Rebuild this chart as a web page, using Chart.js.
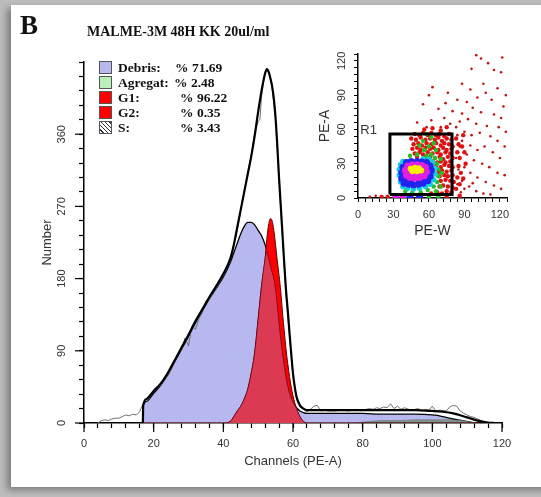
<!DOCTYPE html>
<html>
<head>
<meta charset="utf-8">
<title>MALME-3M 48H KK 20ul/ml</title>
<script src="https://cdn.jsdelivr.net/npm/chart.js@4.4.1/dist/chart.umd.min.js"></script>
<style>
  html, body { margin: 0; padding: 0; }
  body {
    width: 541px; height: 497px; position: relative; overflow: hidden;
    background: #bdbdbd;
    font-family: "Liberation Sans", Arial, sans-serif;
  }
  #card {
    position: absolute; left: 11px; top: 5px; width: 540px; height: 482px;
    background: #fff; box-shadow: -4px 3px 7px rgba(0, 0, 0, 0.35);
  }
  canvas { position: absolute; }
  #main { left: 0; top: 0; }
  #inset { left: 300px; top: 40px; }
  .serif { position: absolute; font-family: "Liberation Serif", "Times New Roman", serif; font-weight: bold; color: #111; white-space: nowrap; }
  #panel { left: 20px; top: 10px; font-size: 27px; }
  #title { left: 87px; top: 24px; font-size: 14px; }
  #legend .row { position: absolute; left: 0; height: 15px; line-height: 15px; }
  #legend .box { position: absolute; left: 0; top: 1px; width: 11px; height: 11px; border: 1px solid #555; }
  #legend .name, #legend .pct { position: absolute; top: 0; font-family: "Liberation Serif", "Times New Roman", serif; font-weight: bold; font-size: 13.5px; color: #111; white-space: nowrap; }
</style>
</head>
<body>
<div id="card"></div>
<canvas id="main" width="541" height="497"></canvas>
<canvas id="inset" width="230" height="205"></canvas>
<div id="panel" class="serif">B</div>
<div id="title" class="serif">MALME-3M 48H KK 20ul/ml</div>
<div id="legend" style="position:absolute;left:99px;top:60px;"></div>

<script>
// histogram model curves, all on the same channel grid
const ch = [16.9, 17, 18, 20, 22, 24, 26, 28, 30, 32, 34, 36, 38, 40,
  42, 43, 44, 45, 46, 47, 48, 49, 50, 51, 52,
  52.5, 53, 53.5, 54, 54.5, 55, 55.5, 56, 56.5, 57, 57.5, 58, 58.5, 59, 59.5, 60,
  61, 62, 63, 64, 66, 70, 75, 80, 85, 90, 95, 100, 103, 106, 110, 113, 116, 118];

const debris = [0, 22, 27, 37, 47, 60, 76, 92, 108, 125, 140, 155, 168, 182,
  200, 212, 224, 236, 245, 250, 250, 247, 240, 233, 222,
  214, 205, 196, 188, 180, 166, 146, 124, 104, 86, 71, 57, 46, 37, 31, 26,
  19, 15, 13, 12, 12, 12, 12, 12, 11, 11, 11, 10, 8, 5, 2, 0, 0, 0];

const g1 = [0, 0, 0, 0, 0, 0, 0, 0, 0, 0, 0, 0, 0, 0,
  2, 8, 15, 21, 30, 42, 62, 88, 130, 172, 205,
  230, 247, 255, 252, 240, 222, 202, 184, 163, 137, 114, 92, 74, 58, 45, 34,
  18, 8, 2, 0, 0, 0, 0, 0, 0, 0, 0, 0, 0, 0, 0, 0, 0, 0];

const total = [0, 22, 30, 40, 49, 62, 78, 94, 110, 127, 142, 157, 171, 186,
  205, 222, 244, 266, 288, 310, 332, 358, 388, 415, 436,
  441, 438, 430, 420, 404, 380, 345, 305, 270, 234, 198, 165, 140, 112, 86, 62,
  33, 22, 18, 16, 16, 16, 16, 16, 16, 16, 16, 15, 14, 12, 7, 3, 0.5, 0];

const aggCh = [78, 82, 86, 90, 95, 100, 104, 108, 111, 113];
const aggCount = [0, 2, 3, 3, 4, 4, 4, 3, 1, 0];

// raw histogram (thin grey trace)
const rawCh = [4, 5, 6, 7, 8, 9, 10, 11, 12, 13, 14, 15, 16, 17, 18, 19, 20, 21, 22, 23,
  24, 25, 26, 27, 28, 29, 30, 31, 32, 33, 34, 35, 36, 37, 38, 39, 40, 41, 42, 43,
  44, 45, 46, 47, 48, 49, 50, 50.5, 51, 52, 53, 54, 55, 56, 57, 58, 59, 60,
  61, 62, 63, 64, 65, 66, 67, 68, 69, 70, 72, 74, 76, 78, 80, 82,
  83, 84, 85, 86, 87, 88, 89, 90, 91, 92, 94, 96, 97, 98, 99, 100, 101, 102,
  104, 105, 106, 107, 108, 109, 110, 111, 112, 113, 114, 115, 116, 117];
const rawCount = [0, 3, 4, 3, 5, 6, 6, 8, 10, 9, 11, 10, 14, 25, 31, 36, 38, 44, 47, 53,
  58, 66, 75, 86, 90, 106, 96, 121, 117, 130, 138, 152, 154, 162, 168, 176, 184, 193, 202, 222,
  240, 266, 288, 312, 334, 362, 376, 378, 408, 438, 438, 418, 378, 302, 228, 160, 108, 58,
  30, 20, 17, 14, 17, 21, 22, 15, 16, 15, 15, 16, 15, 17, 16, 18,
  17, 19, 18, 20, 19, 24, 18, 21, 17, 19, 16, 18, 15, 17, 16, 21, 15, 16,
  15, 20, 22, 21, 15, 12, 10, 8, 7, 5, 3, 2, 0, 0];

// legend text
const legendNames = ['Debris:', 'Agregat:', 'G1:', 'G2:', 'S:'];
const legendPct = ['% 71.69', '% 2.48', '% 96.22', '% 0.35', '% 3.43'];

// inset dot plot, [PE-W, PE-A]
const yellowPts = [[44.5, 25.5], [48, 26.5], [51.5, 26], [46, 23.5], [50, 23.5], [53.5, 24]];
const magentaPts = [[40, 24], [41, 20], [44, 18], [48, 17.5], [52, 18], [56, 19.5], [58, 23], [57, 27],
  [42, 28], [46, 29], [50, 29], [54, 28.5], [44, 21], [49, 21], [53, 21], [32, 1], [38, 1]];
const bluePts = [[37, 22], [37, 17], [39, 13], [43, 12], [47, 11.5], [51, 12], [55, 13], [59, 15], [61, 19],
  [62, 24], [61, 28], [58, 31], [38, 27], [41, 31], [45, 32], [50, 32], [54, 31.5], [40, 16], [56, 16],
  [44, 14.5], [52, 15], [44, 1], [52, 1]];
const cyanPts = [[35, 20], [35, 25], [36, 14], [38, 10], [42, 8.5], [47, 8], [52, 8.5], [57, 10], [61, 12],
  [64, 16], [65, 21], [65, 26], [63, 31], [60, 34], [36, 29], [55, 34], [38, 32]];
const greenPts = [[40, 6], [46, 5], [53, 5], [59, 7], [64, 10], [67, 14], [68, 19], [68, 25], [67, 30],
  [65, 35], [62, 38], [58, 37], [56, 42], [60, 45], [64, 48], [55, 50], [62, 53], [58, 56], [70, 34],
  [71, 22], [70, 10], [66, 6], [50, 38], [66, 42], [52, 46], [60, 29], [44, 37], [60, 1], [68, 1]];
const redCloud = [[48, 56], [52, 55], [55, 57], [59, 55], [62, 57], [66, 55], [69, 56], [73, 54], [77, 56],
  [45, 52], [49, 51], [53, 53], [57, 51], [61, 52], [65, 51], [68, 53], [71, 50], [75, 52], [79, 51],
  [47, 47], [51, 48], [54, 46], [58, 48], [62, 47], [66, 48], [70, 46], [73, 48], [77, 47], [80, 45],
  [46, 43], [50, 44], [53, 42], [57, 44], [61, 43], [64, 44], [68, 42], [72, 44], [75, 42], [79, 43],
  [48, 39], [52, 40], [55, 38], [59, 40], [63, 39], [67, 40], [70, 38], [74, 40], [78, 39],
  [50, 36], [57, 35], [61, 36], [65, 35], [69, 36], [72, 34], [76, 36], [80, 35],
  [63, 32], [67, 31], [70, 32], [74, 31], [78, 32], [66, 28], [70, 27], [73, 29], [77, 28], [80, 27],
  [68, 23], [71, 24], [75, 23], [79, 24], [69, 19], [73, 20], [76, 19], [80, 20],
  [70, 15], [74, 16], [78, 15], [81, 14], [69, 10], [72, 11], [76, 10], [80, 9],
  [62, 4], [67, 5], [71, 4], [75, 6], [79, 5],
  [83, 52], [85, 47], [84, 40], [86, 35], [85, 28], [87, 22], [84, 18], [86, 12], [88, 45], [90, 40],
  [89, 55], [91, 30], [83, 8], [89, 17], [56, 60], [63, 61], [70, 59], [75, 62],
  [20, 1], [25, 1], [75, 1], [86, 2]];
const redSparse = [[100, 125], [104, 122], [122, 123], [110, 118], [96, 113], [115, 112], [121, 110],
  [88, 100], [95, 95], [63, 97], [76, 92], [106, 100], [118, 96], [108, 92], [125, 90], [84, 86],
  [92, 84], [101, 88], [113, 86], [123, 80], [68, 78], [80, 76], [88, 74], [97, 79], [104, 75],
  [115, 73], [121, 70], [73, 70], [86, 67], [93, 69], [100, 65], [109, 63], [119, 62], [125, 58],
  [83, 62], [90, 58], [96, 55], [103, 57], [112, 54], [118, 50], [124, 45], [88, 50], [95, 46],
  [101, 42], [107, 45], [114, 40], [120, 35], [92, 38], [98, 33], [105, 30], [111, 27], [118, 22],
  [124, 20], [90, 27], [95, 22], [101, 18], [108, 14], [115, 11], [121, 8], [88, 15], [94, 10],
  [100, 6], [106, 4], [112, 3], [60, 90], [55, 82], [62, 68], [74, 83], [50, 66], [58, 62], [70, 62],
  [78, 65], [84, 55], [86, 45], [83, 35], [85, 25], [84, 12], [87, 5], [90, 8], [97, 13],
  [10, 1], [15, 2]];

// R1 gate corners and its label
const gateW = [27, 27, 79.5, 79.5, 27];
const gateA = [3, 56, 56, 3, 3];
const gateLabel = { text: 'R1', w: 2, a: 59 };

Chart.defaults.font.family = "'Liberation Sans', Arial, sans-serif";
Chart.defaults.color = '#333';

// legend
const swatches = [
  'background:#b8b8f0;',
  'background:#b8f0b8;',
  'background:#ff0000;',
  'background:#ff0000;',
  'background:repeating-linear-gradient(45deg,#fff 0 2px,#334 2px 3px);'
];
const pctLeft = [76, 75, 81, 81, 81];
const legend = document.getElementById('legend');
legendNames.forEach((name, i) => {
  const row = document.createElement('div');
  row.className = 'row';
  row.style.top = (i * 15) + 'px';
  row.innerHTML = '<div class="box" style="' + swatches[i] + '"></div>' +
    '<div class="name" style="left:19px">' + name + '</div>' +
    '<div class="pct" style="left:' + pctLeft[i] + 'px">' + legendPct[i] + '</div>';
  legend.appendChild(row);
});

const pts = (xs, ys) => xs.map((x, i) => ({ x: x, y: ys[i] }));
const pairs = arr => arr.map(p => ({ x: p[0], y: p[1] }));

// longer marks on the labelled ticks
const majorTicks = {
  id: 'majorTicks',
  afterDraw(chart) {
    const { ctx, scales: { x, y } } = chart;
    ctx.save();
    ctx.strokeStyle = '#000';
    ctx.lineWidth = 1.2;
    x.ticks.forEach(t => {
      if (t.value % 20 !== 0) return;
      const px = x.getPixelForValue(t.value);
      ctx.beginPath(); ctx.moveTo(px, x.top); ctx.lineTo(px, x.top + 9); ctx.stroke();
    });
    y.ticks.forEach(t => {
      if (t.value % 90 !== 0 || t.value === y.max) return;
      const py = y.getPixelForValue(t.value);
      ctx.beginPath(); ctx.moveTo(y.right, py); ctx.lineTo(y.right - 9, py); ctx.stroke();
    });
    ctx.restore();
  }
};

new Chart(document.getElementById('main'), {
  type: 'scatter',
  data: {
    datasets: [
      { label: 'Model', data: pts(ch, total), showLine: true, borderColor: '#000', borderWidth: 2.2,
        pointRadius: 0, fill: false, cubicInterpolationMode: 'monotone', order: 0 },
      { label: 'Data', data: pts(rawCh, rawCount), showLine: true, borderColor: '#707070', borderWidth: 1,
        pointRadius: 0, fill: false, order: 1 },
      { label: 'G1 over debris', data: ch.map((c, i) => ({ x: c, y: Math.min(debris[i], g1[i]) })), showLine: true,
        borderColor: 'rgba(80,0,20,0.8)', borderWidth: 0.8, backgroundColor: '#dc3a52', fill: 'origin',
        pointRadius: 0, cubicInterpolationMode: 'monotone', order: 2 },
      { label: 'G1', data: pts(ch, g1), showLine: true, borderColor: '#600000', borderWidth: 1,
        backgroundColor: '#ff0000', fill: 'origin', pointRadius: 0, cubicInterpolationMode: 'monotone', order: 3 },
      { label: 'Agregat', data: pts(aggCh, aggCount), showLine: true, borderColor: '#6f827d', borderWidth: 0.8,
        backgroundColor: '#80948f', fill: 'origin', pointRadius: 0, cubicInterpolationMode: 'monotone', order: 4 },
      { label: 'Debris', data: pts(ch, debris), showLine: true, borderColor: '#000', borderWidth: 1.3,
        backgroundColor: '#b8b8f0', fill: 'origin', pointRadius: 0, cubicInterpolationMode: 'monotone', order: 5 }
    ]
  },
  options: {
    responsive: false,
    animation: false,
    events: [],
    layout: { padding: { left: 40, right: 39, top: 62, bottom: 28 } },
    plugins: { legend: { display: false }, tooltip: { enabled: false } },
    scales: {
      x: {
        type: 'linear', min: 0, max: 120,
        border: { color: '#000', width: 1.5 },
        grid: { drawOnChartArea: false, tickLength: 5, tickColor: '#000', tickWidth: 1.2 },
        ticks: { stepSize: 4, autoSkip: false, maxRotation: 0, padding: 9, font: { size: 11 },
          callback: v => (v % 20 === 0 ? v : '') },
        title: { display: true, text: 'Channels (PE-A)', font: { size: 13 }, padding: 0 },
        afterFit: s => { s.height = 46; }
      },
      y: {
        type: 'linear', min: 0, max: 450,
        border: { color: '#000', width: 1.5 },
        grid: { drawOnChartArea: false, tickLength: 5, tickColor: '#000', tickWidth: 1.2 },
        ticks: { stepSize: 18, autoSkip: false, minRotation: 90, maxRotation: 90, crossAlign: 'center',
          padding: 8, font: { size: 11 }, callback: v => (v % 90 === 0 && v < 450 ? v : '') },
        title: { display: true, text: 'Number', font: { size: 13 }, padding: 0 },
        afterFit: s => { s.width = 44; }
      }
    }
  },
  plugins: [majorTicks]
});

// "R1" next to the gate
const gateText = {
  id: 'gateText',
  afterDatasetsDraw(chart) {
    const { ctx, scales: { x, y } } = chart;
    ctx.save();
    ctx.font = "13px 'Liberation Sans', Arial, sans-serif";
    ctx.fillStyle = '#333';
    ctx.textBaseline = 'middle';
    ctx.fillText(gateLabel.text, x.getPixelForValue(gateLabel.w), y.getPixelForValue(gateLabel.a));
    ctx.restore();
  }
};

const dotSet = (label, arr, color, r, order) => ({
  label: label, data: pairs(arr), backgroundColor: color, borderWidth: 0, pointRadius: r, order: order
});

new Chart(document.getElementById('inset'), {
  type: 'scatter',
  data: {
    datasets: [
      { label: 'R1', data: pts(gateW, gateA), showLine: true, borderColor: '#000', borderWidth: 3,
        pointRadius: 0, fill: false, order: 0 },
      dotSet('yellow', yellowPts, '#ffee00', 3, 1),
      dotSet('magenta', magentaPts, '#e020e0', 3.5, 2),
      dotSet('blue', bluePts, '#2424f0', 3.5, 3),
      dotSet('cyan', cyanPts, '#10d0e0', 2.8, 4),
      dotSet('green', greenPts, '#22c022', 2.2, 5),
      dotSet('red', redCloud, '#e01010', 2.2, 6),
      dotSet('sparse', redSparse, '#c01515', 1.3, 7)
    ]
  },
  options: {
    responsive: false,
    animation: false,
    events: [],
    layout: { padding: { left: 17, right: 23, top: 14, bottom: 5 } },
    plugins: { legend: { display: false }, tooltip: { enabled: false } },
    scales: {
      x: {
        type: 'linear', min: 0, max: 126,
        border: { color: '#000', width: 1.5 },
        grid: { drawOnChartArea: false, tickLength: 4, tickColor: '#000', tickWidth: 1 },
        ticks: { stepSize: 6, autoSkip: false, maxRotation: 0, padding: 6, font: { size: 11 },
          callback: v => (v % 30 === 0 ? v : '') },
        title: { display: true, text: 'PE-W', font: { size: 14 }, padding: 0 },
        afterFit: s => { s.height = 42; }
      },
      y: {
        type: 'linear', min: 0, max: 126,
        border: { color: '#000', width: 1.5 },
        grid: { drawOnChartArea: false, tickLength: 4, tickColor: '#000', tickWidth: 1 },
        ticks: { stepSize: 6, autoSkip: false, minRotation: 90, maxRotation: 90, crossAlign: 'center',
          padding: 3, font: { size: 11 }, callback: v => (v % 30 === 0 ? v : '') },
        title: { display: true, text: 'PE-A', font: { size: 14 }, padding: 0 },
        afterFit: s => { s.width = 41; }
      }
    }
  },
  plugins: [gateText]
});
</script>
</body>
</html>
